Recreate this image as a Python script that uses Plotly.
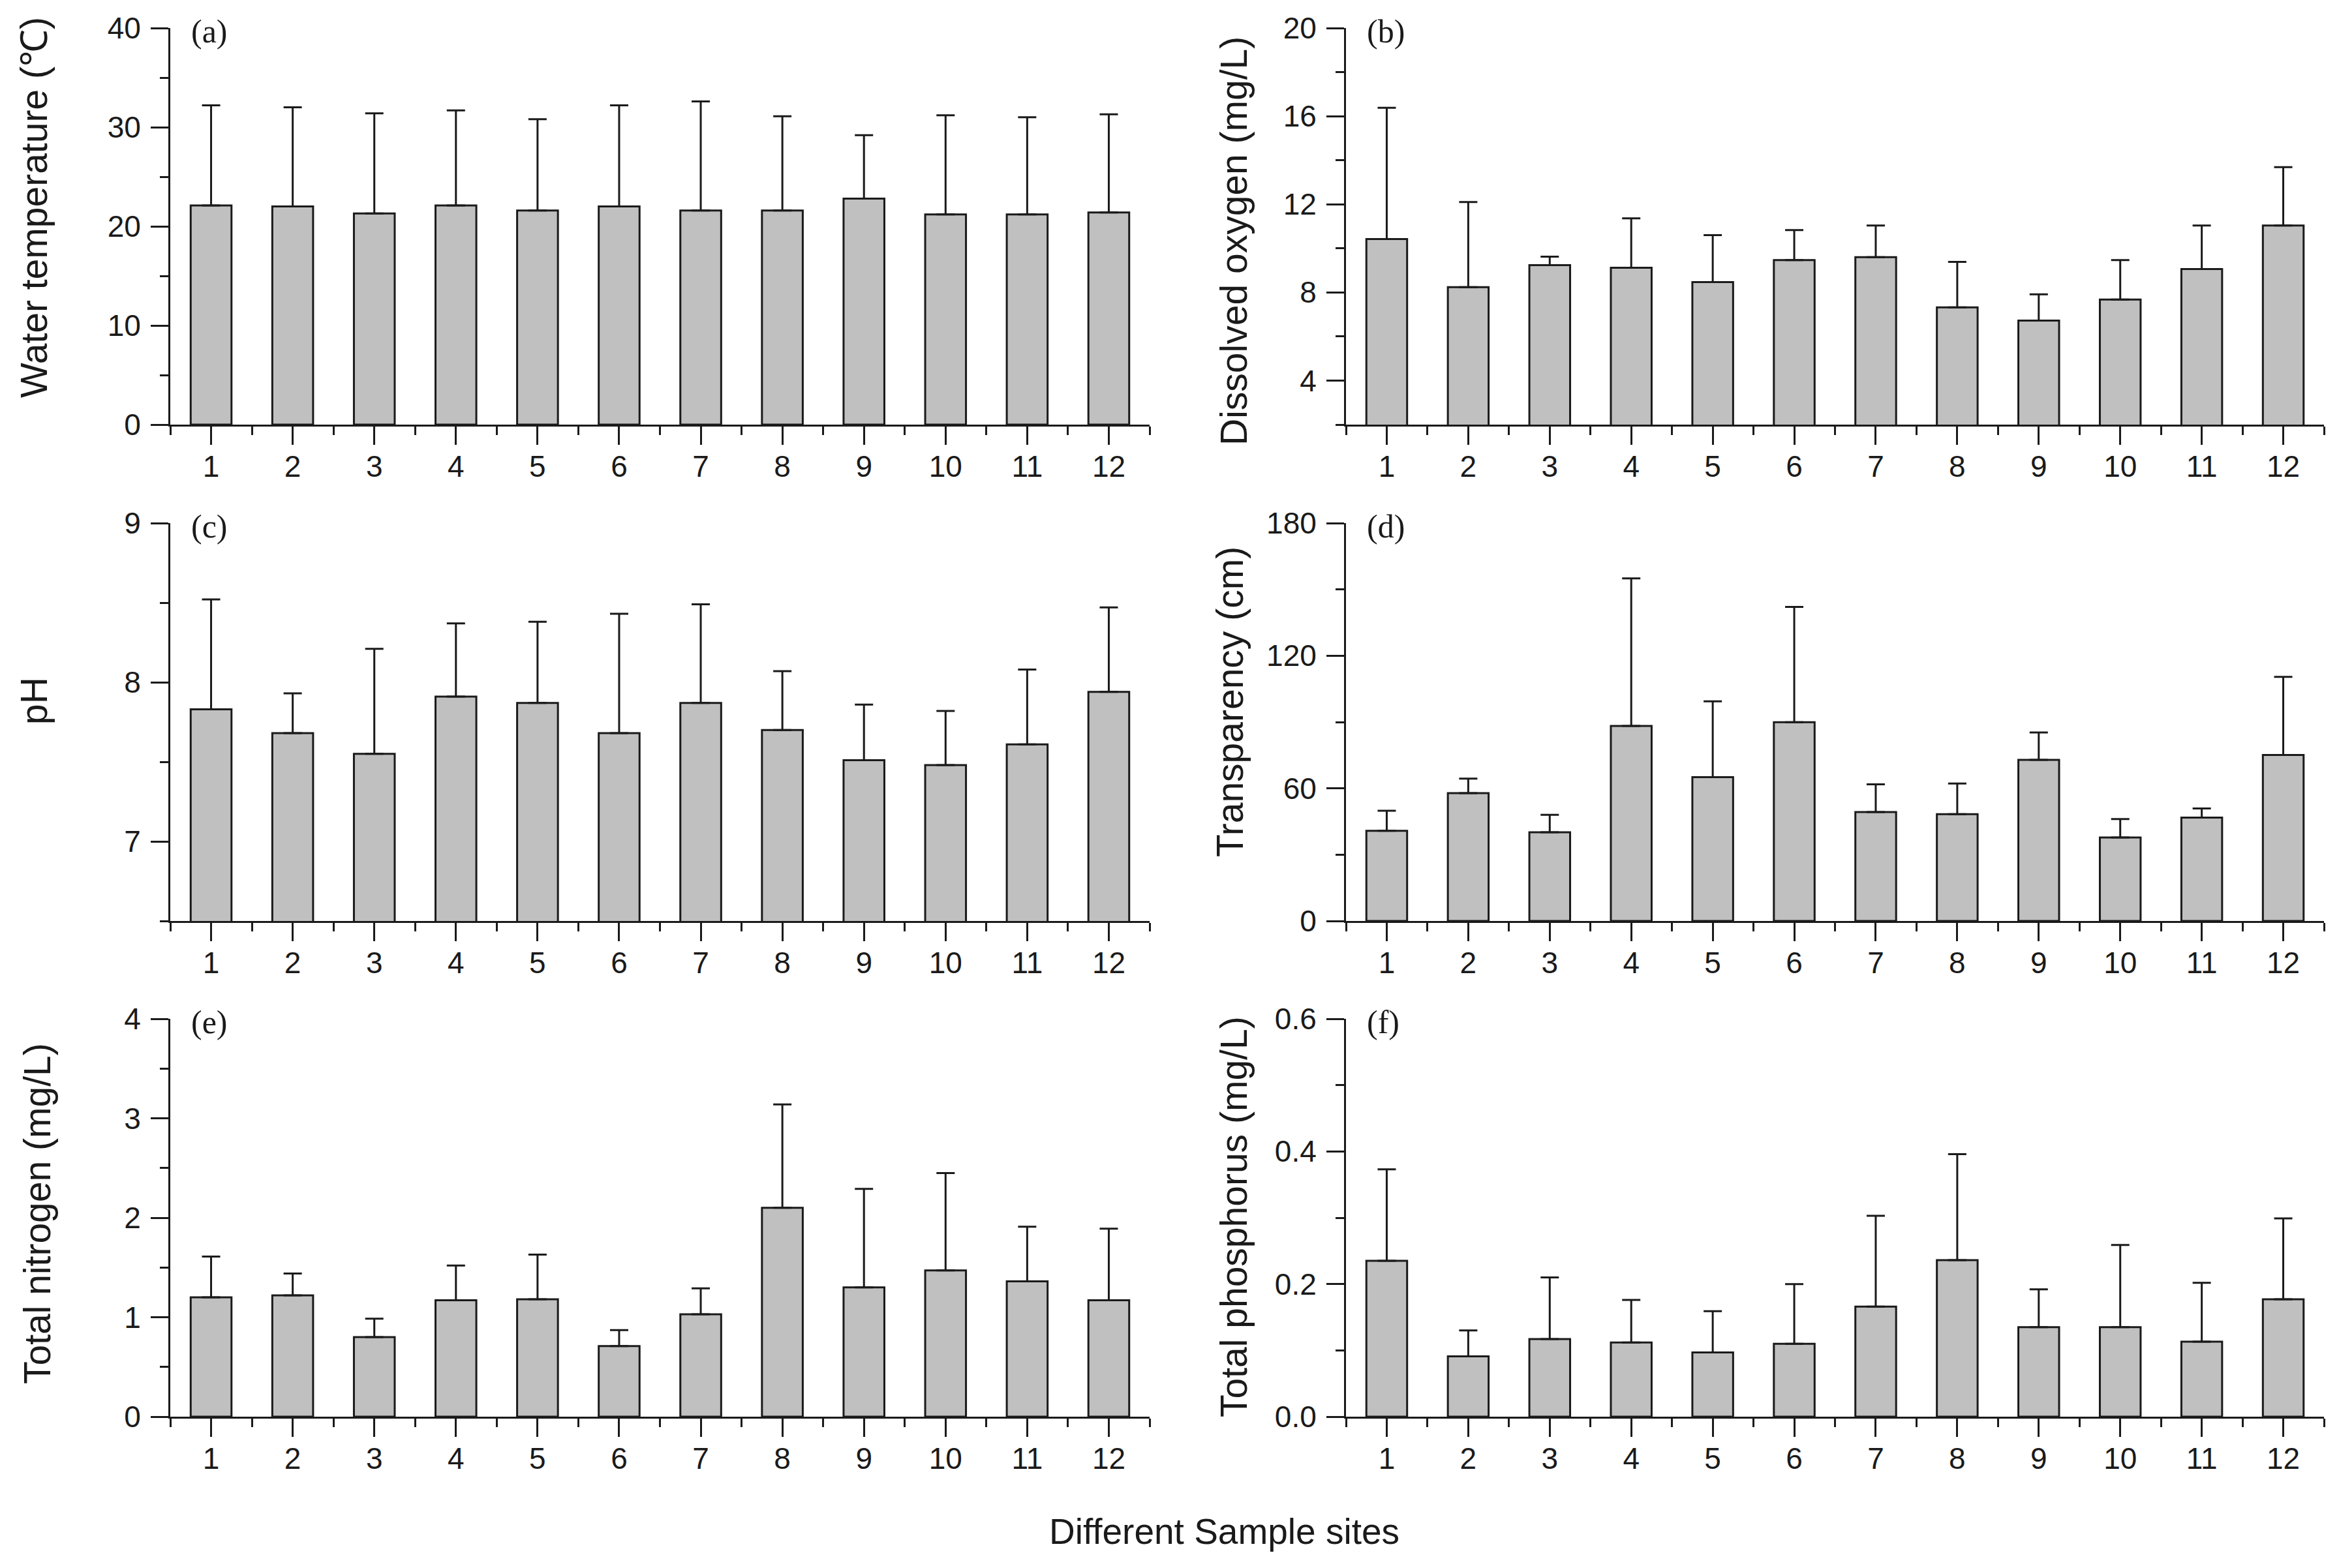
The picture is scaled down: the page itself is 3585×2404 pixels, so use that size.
import plotly.graph_objects as go
from plotly.subplots import make_subplots

# sample sites
sites = list(range(1, 13))

# (a) water temperature, mean and SD
temp_mean = [22.1, 22.0, 21.3, 22.1, 21.6, 22.0, 21.6, 21.6, 22.8, 21.2, 21.2, 21.4]
temp_sd = [10.1, 10.0, 10.1, 9.6, 9.2, 10.2, 11.0, 9.5, 6.4, 10.0, 9.8, 9.9]

# (b) dissolved oxygen
do_mean = [10.42, 8.24, 9.24, 9.12, 8.47, 9.47, 9.60, 7.32, 6.72, 7.68, 9.06, 11.04]
do_sd = [5.96, 3.86, 0.38, 2.24, 2.13, 1.36, 1.44, 2.07, 1.19, 1.79, 1.98, 2.65]

# (c) pH
ph_mean = [7.83, 7.68, 7.55, 7.91, 7.87, 7.68, 7.87, 7.70, 7.51, 7.48, 7.61, 7.94]
ph_sd = [0.69, 0.25, 0.66, 0.46, 0.51, 0.75, 0.62, 0.37, 0.35, 0.34, 0.47, 0.53]

# (d) transparency
sd_mean = [40.8, 57.8, 40.1, 88.2, 65.1, 89.9, 49.3, 48.3, 72.9, 37.8, 46.8, 75.1]
sd_sd = [9.1, 6.6, 7.9, 66.8, 34.3, 52.2, 12.5, 13.9, 12.4, 8.3, 4.1, 35.3]

# (e) total nitrogen
tn_mean = [1.20, 1.22, 0.80, 1.17, 1.18, 0.71, 1.03, 2.10, 1.30, 1.47, 1.36, 1.17]
tn_sd = [0.41, 0.22, 0.185, 0.35, 0.45, 0.16, 0.26, 1.04, 0.99, 0.98, 0.55, 0.72]

# (f) total phosphorus
tp_mean = [0.235, 0.091, 0.117, 0.112, 0.097, 0.110, 0.166, 0.236, 0.135, 0.135, 0.113, 0.177]
tp_sd = [0.138, 0.039, 0.093, 0.064, 0.062, 0.090, 0.137, 0.160, 0.057, 0.124, 0.089, 0.122]

y_titles = ["Water temperature (℃)", "Dissolved oxygen (mg/L)", "pH",
            "Transparency (cm)", "Total nitrogen (mg/L)", "Total phosphorus (mg/L)"]
panel_tags = ["(a)", "(b)", "(c)", "(d)", "(e)", "(f)"]
x_title = "Different Sample sites"

W, H = 3585, 2404
SANS = "Liberation Sans, Arial, sans-serif"
SERIF = "Liberation Serif, Times New Roman, serif"
INK = "#1a1a1a"

# panel specs: mean, sd, y range, major ticks, minor ticks, tick format
panels = [
    (temp_mean, temp_sd, [0, 40], [0, 10, 20, 30, 40], [5, 15, 25, 35], "d"),
    (do_mean, do_sd, [2, 20], [4, 8, 12, 16, 20], [2, 6, 10, 14, 18], "d"),
    (ph_mean, ph_sd, [6.5, 9], [7, 8, 9], [6.5, 7.5, 8.5], "d"),
    (sd_mean, sd_sd, [0, 180], [0, 60, 120, 180], [30, 90, 150], "d"),
    (tn_mean, tn_sd, [0, 4], [0, 1, 2, 3, 4], [0.5, 1.5, 2.5, 3.5], "d"),
    (tp_mean, tp_sd, [0, 0.6], [0, 0.2, 0.4, 0.6], [0.1, 0.3, 0.5], ".1f"),
]

# pixel geometry of the plot areas
col_px = [(261, 1762), (2063, 3562)]
row_px = [(43, 651), (802, 1412), (1562, 2172)]
title_px = [(52, 318), (1891, 370), (52, 1075), (1885, 1076), (57, 1861), (1891, 1866)]

fig = make_subplots(rows=3, cols=2)

annotations = []
for i, (mean, sd, yr, major, minor, fmt) in enumerate(panels):
    r, c = i // 2 + 1, i % 2 + 1
    fig.add_trace(go.Bar(
        x=sites, y=mean, width=0.5,
        marker=dict(color="#c0c0c0", line=dict(color=INK, width=3)),
        error_y=dict(type="data", symmetric=False, array=sd, arrayminus=[0] * len(sd),
                     color=INK, thickness=3, width=14),
        showlegend=False,
    ), row=r, col=c)

    x0, x1 = col_px[c - 1]
    y0, y1 = row_px[r - 1]
    fig.update_xaxes(
        domain=[x0 / W, x1 / W], range=[0.5, 12.5], automargin=False,
        tickvals=sites, ticks="outside", ticklen=28, tickwidth=3, tickcolor=INK,
        minor=dict(tickvals=[k + 0.5 for k in range(0, 13)], ticks="outside",
                   ticklen=13, tickwidth=3, tickcolor=INK),
        showline=True, linecolor=INK, linewidth=3, showgrid=False, zeroline=False,
        tickfont=dict(family=SANS, size=46, color=INK), ticklabelstandoff=-6,
        row=r, col=c)
    fig.update_yaxes(
        domain=[1 - y1 / H, 1 - y0 / H], range=yr, automargin=False,
        tickvals=major, tickformat=fmt, ticks="outside", ticklen=27, tickwidth=3, tickcolor=INK,
        minor=dict(tickvals=minor, ticks="outside", ticklen=13, tickwidth=3, tickcolor=INK),
        showline=True, linecolor=INK, linewidth=3, showgrid=False, zeroline=False,
        tickfont=dict(family=SANS, size=46, color=INK), ticklabelstandoff=6,
        row=r, col=c)

    tx, ty = title_px[i]
    annotations.append(dict(
        text=y_titles[i], x=tx / W, y=1 - ty / H, xref="paper", yref="paper",
        textangle=-90, showarrow=False, xanchor="center", yanchor="middle",
        font=dict(family=SANS, size=57, color=INK)))
    annotations.append(dict(
        text=panel_tags[i], x=(x0 + 30) / W, y=1 - (y0 + 5) / H, xref="paper", yref="paper",
        showarrow=False, xanchor="left", yanchor="middle",
        font=dict(family=SERIF, size=50, color=INK)))

annotations.append(dict(
    text=x_title, x=1876 / W, y=1 - 2348 / H, xref="paper", yref="paper",
    showarrow=False, xanchor="center", yanchor="middle",
    font=dict(family=SANS, size=55, color=INK)))

fig.update_layout(
    width=W, height=H, margin=dict(l=0, r=0, t=0, b=0, autoexpand=False),
    plot_bgcolor="white", paper_bgcolor="white",
    annotations=annotations, bargap=0.5,
)

fig.write_html("out.html", config={"displayModeBar": False},
               post_script="document.body.style.margin='0';")
